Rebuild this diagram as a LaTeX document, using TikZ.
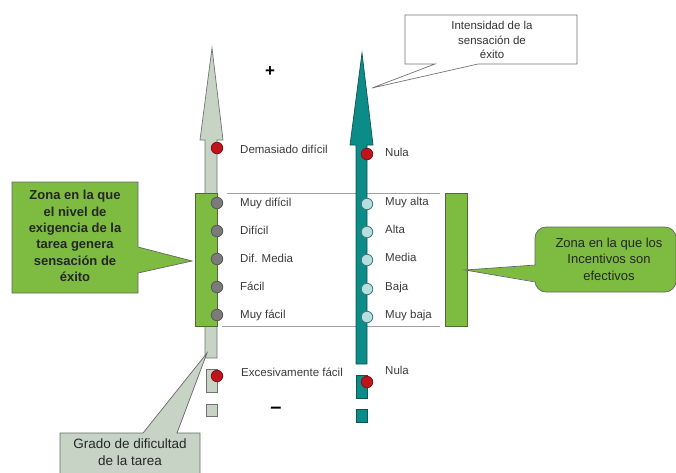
\documentclass[tikz,border=0pt]{standalone}
\usepackage{fontspec}
\setmainfont{Liberation Sans}
\definecolor{sage}{HTML}{C7D4C5}
\definecolor{sageborder}{HTML}{6F766F}
\definecolor{zgreen}{HTML}{7DBB41}
\definecolor{zgreenborder}{HTML}{4F6B35}
\definecolor{tealfill}{HTML}{0B8C88}
\definecolor{tealborder}{HTML}{0F5552}
\definecolor{dotred}{HTML}{C0141C}
\definecolor{dotgray}{HTML}{7B7B7B}
\definecolor{dotblue}{HTML}{B8DFDF}
\definecolor{labelgray}{HTML}{3A3A3A}
\definecolor{linegray}{HTML}{A0A0A0}
\begin{document}
\begin{tikzpicture}[x=1pt,y=-1pt,
  lab/.style={anchor=west,inner sep=0pt,text height=8pt,text depth=2.5pt,
    font=\fontsize{11.5}{13}\selectfont,text=labelgray},
  dotbase/.style={circle,inner sep=0pt,minimum size=11.5pt,line width=0.8pt},
  reddot/.style={dotbase,fill=dotred,draw=dotred!70!black},
  graydot/.style={dotbase,fill=dotgray,draw=black!65},
  bluedot/.style={dotbase,fill=dotblue,draw=tealborder!80},
  sagearrow/.style={fill=sage,draw=sageborder,line width=0.7pt},
  tealarrow/.style={fill=tealfill,draw=tealborder,line width=0.7pt},
  zone/.style={fill=zgreen,draw=zgreenborder,line width=0.7pt},
  guide/.style={draw=linegray,line width=0.8pt},
  ctext/.style={align=center,inner sep=0pt},
]
\useasboundingbox (0,0) rectangle (676,472);
\clip (0,0) rectangle (676,472);

% guide lines
\coordinate (gl1a) at (227,193); \coordinate (gl1b) at (440,193);
\coordinate (gl2a) at (222,326); \coordinate (gl2b) at (440,326);
\draw[guide] (gl1a) -- (gl1b);
\draw[guide] (gl2a) -- (gl2b);

% left arrow
\draw[sagearrow] (212,48) -- (223,140) -- (217,140) -- (217,358) -- (205,358)
  -- (205,140) -- (200,140) -- cycle;
\draw[sagearrow] (206,369) rectangle (217,392);
\draw[sagearrow] (206,404) rectangle (217,416);

% right arrow
\draw[tealarrow] (362,53) -- (373,145) -- (367,145) -- (367,364) -- (356,364)
  -- (356,145) -- (350,145) -- cycle;
\draw[tealarrow] (356,375) rectangle (367,398);
\draw[tealarrow] (356,409) rectangle (367,422);

% zones
\draw[zone] (195,193) rectangle (217,326);
\draw[zone] (445,193) rectangle (467,326);

% plus / minus
\node[font=\fontsize{17}{17}\selectfont\bfseries] (plus) at (270,72) {+};
\node[font=\fontsize{20}{20}\selectfont\bfseries] (minus) at (276,410) {--};

% left dots and labels
\node[reddot] (ld0) at (217,148) {};
\node[lab] (lt0) at (240,151) {Demasiado difícil};
\foreach \y/\t [count=\i] in {204/Muy difícil,232/Difícil,260/Dif. Media,288/Fácil,316/Muy fácil}{
  \node[graydot] (ld\i) at (217,\y-1) {};
  \node[lab] (lt\i) at (240,\y) {\t};
}
\node[reddot] (ld6) at (217,376) {};
\node[lab] (lt6) at (241,374) {Excesivamente fácil};

% right dots and labels
\node[reddot] (rd0) at (367,154) {};
\node[lab] (rt0) at (385,154) {Nula};
\foreach \y/\t [count=\i] in {203/Muy alta,231/Alta,259/Media,288/Baja,316/Muy baja}{
  \node[bluedot] (rd\i) at (367,\y+1) {};
  \node[lab] (rt\i) at (385,\y) {\t};
}
\node[reddot] (rd6) at (367,382) {};
\node[lab] (rt6) at (385,372) {Nula};

% left callout
\draw[fill=zgreen,draw=black!60,line width=0.7pt]
  (12,182) -- (138,182) -- (138,247) -- (192,261) -- (138,273) -- (138,293)
  -- (12,293) -- cycle;
\node[ctext,font=\fontsize{13}{16.4}\selectfont\bfseries,text=black!85] (leftcall) at (75,236)
  {Zona en la que\\el nivel de\\exigencia de la\\tarea genera\\sensación de\\éxito};

% right callout (rounded)
\draw[fill=zgreen,draw=black!60,line width=0.7pt,rounded corners=11pt]
  (535,227) rectangle (676,292);
\fill[zgreen] (465,270) -- (538,265) -- (538,282) -- cycle;
\draw[black!60,line width=0.7pt] (535.3,265) -- (465,270) -- (535.3,282);
\node[ctext,font=\fontsize{13}{16.5}\selectfont,text=black!85] (rightcall) at (609,259)
  {Zona en la que los\\Incentivos son\\efectivos};

% top callout
\draw[fill=white,draw=black!55,line width=0.7pt]
  (405,15) -- (577,15) -- (577,64) -- (478,64) -- (372,88) -- (435,64)
  -- (405,64) -- cycle;
\node[ctext,font=\fontsize{11.5}{14.5}\selectfont,text=black!80] (topcall) at (492,40)
  {Intensidad de la\\sensación de\\éxito};

% bottom callout
\draw[fill=sage,draw=black!60,line width=0.7pt]
  (60,433) -- (143,433) -- (207,353) -- (177,433) -- (200,433) -- (200,480)
  -- (60,480) -- cycle;
\node[ctext,font=\fontsize{13.5}{17}\selectfont,text=black!85] (botcall) at (130,452)
  {Grado de dificultad\\de la tarea};
\end{tikzpicture}
\end{document}
